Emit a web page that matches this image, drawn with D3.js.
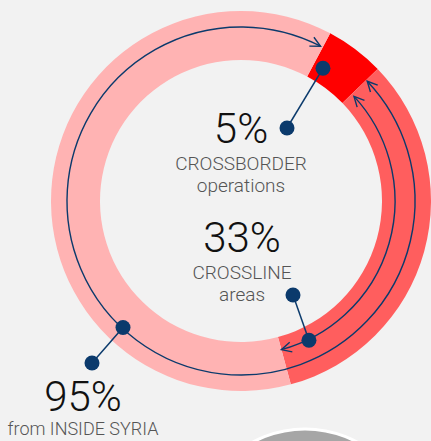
<!DOCTYPE html>
<html>
<head>
<meta charset="utf-8">
<script src="https://cdn.jsdelivr.net/npm/d3@7"></script>
<style>
  html, body { margin: 0; padding: 0; background: #f2f2f2; }
  svg { display: block; }
  text { font-family: Roboto, "Helvetica Neue", Arial, sans-serif; font-weight: 300; }
</style>
</head>
<body>
<script>
// ring segments (share of aid deliveries)
var segNames = ["CROSSBORDER", "CROSSLINE", "OTHER INSIDE SYRIA"];
var segValues = [5, 33, 62];
var segColors = ["#ff0000", "#ff5e5e", "#ffb3b3"];

// annotations
var annoValues = ["5%", "33%", "95%"];
var annoLine1 = ["CROSSBORDER", "CROSSLINE", "from INSIDE SYRIA"];
var annoLine2 = ["operations", "areas", ""];

var width = 431;
var height = 441;
var cx = 241, cy = 201;
var rInner = 141, rOuter = 190;
var startDeg = 28;
var navy = "#0b3a6c";

var svg = d3.select("body").append("svg")
  .attr("width", width)
  .attr("height", height);

// part of the next chart peeking in at the bottom
svg.append("circle")
  .attr("cx", 305).attr("cy", 539).attr("r", 110)
  .attr("fill", "#a6a6a6")
  .attr("stroke", "#ffffff")
  .attr("stroke-width", 3);

var rad = Math.PI / 180;
var pie = d3.pie()
  .sort(null)
  .value(function(d) { return d; })
  .startAngle(startDeg * rad)
  .endAngle(startDeg * rad + 2 * Math.PI);

var arcs = pie(segValues);

var arc = d3.arc()
  .innerRadius(rInner)
  .outerRadius(rOuter);

var g = svg.append("g")
  .attr("transform", "translate(" + cx + "," + cy + ")");

g.selectAll("path.seg")
  .data(arcs)
  .enter()
  .append("path")
  .attr("class", "seg")
  .attr("d", arc)
  .attr("fill", function(d, i) { return segColors[i]; });

// arrow heads
var defs = svg.append("defs");
defs.append("marker")
  .attr("id", "chev")
  .attr("markerUnits", "userSpaceOnUse")
  .attr("viewBox", "-12 -8 14 16")
  .attr("markerWidth", 14)
  .attr("markerHeight", 16)
  .attr("refX", 0)
  .attr("refY", 0)
  .attr("orient", "auto-start-reverse")
  .append("path")
  .attr("d", "M-10,-5L0,0L-10,5")
  .attr("fill", "none")
  .attr("stroke", navy)
  .attr("stroke-width", 1.4);

function arcLine(r, a0, a1) {
  // d3 angles (0 = top, clockwise) -> svg angles
  var p = d3.path();
  var s = a0 - Math.PI / 2, e = a1 - Math.PI / 2;
  p.moveTo(r * Math.cos(s), r * Math.sin(s));
  p.arc(0, 0, r, s, e, false);
  return p.toString();
}

// 95% span: everything outside crossborder
var red = arcs[0], cross = arcs[1];
g.append("path")
  .attr("d", arcLine(174, red.endAngle + 0.5 * rad, red.startAngle + 2 * Math.PI - 0.8 * rad))
  .attr("fill", "none")
  .attr("stroke", navy)
  .attr("stroke-width", 1.4)
  .attr("marker-start", "url(#chev)")
  .attr("marker-end", "url(#chev)");

// 33% span: crossline
g.append("path")
  .attr("d", arcLine(154, cross.startAngle + 1.2 * rad, cross.endAngle))
  .attr("fill", "none")
  .attr("stroke", navy)
  .attr("stroke-width", 1.4)
  .attr("marker-start", "url(#chev)")
  .attr("marker-end", "url(#chev)");

// leader dots: point on ring (angle, radius) and label dot
var ringDotAng = [31.7, 154, 223];
var ringDotR = [156, 155, 173];
var labelDots = [[287, 128], [293, 295], [92, 363]];

annoValues.forEach(function(v, i) {
  var a = (ringDotAng[i] - 90) * rad;
  var x1 = cx + ringDotR[i] * Math.cos(a);
  var y1 = cy + ringDotR[i] * Math.sin(a);
  var x2 = labelDots[i][0], y2 = labelDots[i][1];
  svg.append("line")
    .attr("x1", x1).attr("y1", y1)
    .attr("x2", x2).attr("y2", y2)
    .attr("stroke", navy)
    .attr("stroke-width", 1.5);
  svg.append("circle").attr("cx", x1).attr("cy", y1).attr("r", 7.5).attr("fill", navy);
  svg.append("circle").attr("cx", x2).attr("cy", y2).attr("r", 7.5).attr("fill", navy);
});

// labels
var labelPos = [[241, 143], [242, 252], [83, 411]];
var subSize = [19, 19, 18];
var subGap = [27, 27, 24];
annoValues.forEach(function(v, i) {
  var t = svg.append("g")
    .attr("transform", "translate(" + labelPos[i][0] + "," + labelPos[i][1] + ")");
  t.append("text")
    .attr("text-anchor", "middle")
    .attr("font-size", 42)
    .attr("fill", "#111")
    .text(v);
  t.append("text")
    .attr("text-anchor", "middle")
    .attr("y", subGap[i])
    .attr("font-size", subSize[i])
    .attr("fill", "#555")
    .text(annoLine1[i]);
  if (annoLine2[i]) {
    t.append("text")
      .attr("text-anchor", "middle")
      .attr("y", subGap[i] + 22)
      .attr("font-size", subSize[i])
      .attr("fill", "#555")
      .text(annoLine2[i]);
  }
});
</script>
</body>
</html>
